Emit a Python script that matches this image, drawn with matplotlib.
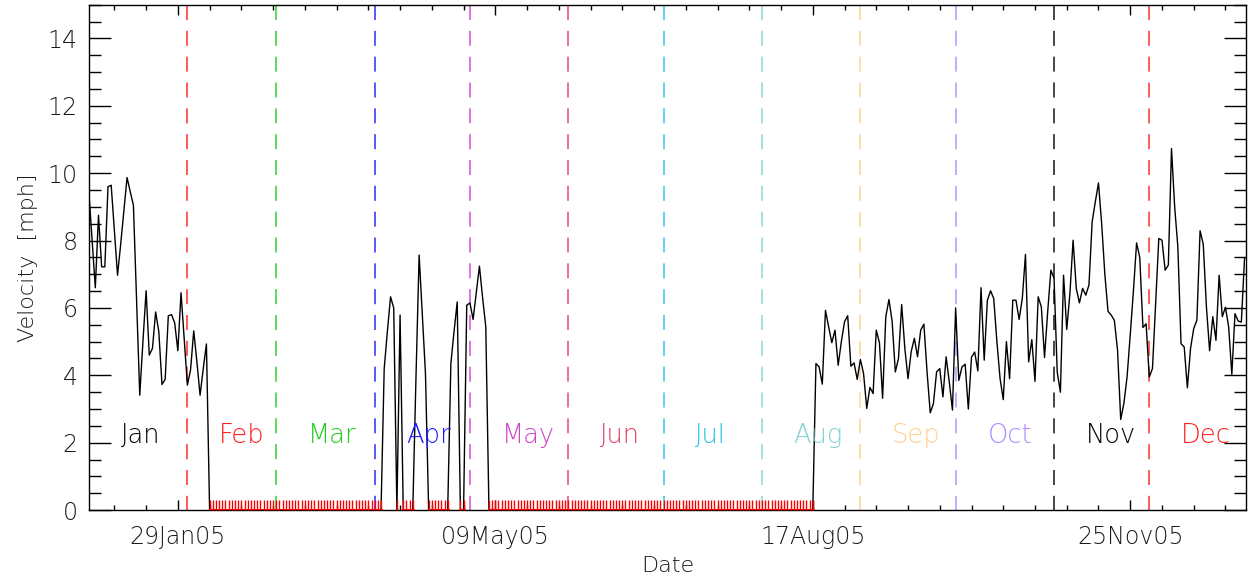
import numpy as np
import matplotlib
matplotlib.use("Agg")
import matplotlib.pyplot as plt
from matplotlib.ticker import FixedLocator, MultipleLocator
from matplotlib.lines import TICKUP

# Daily wind velocity [mph] for 2005, day 0 = 01 Jan 2005.
# Days not covered by the segments below are zero (no wind recorded).
N_DAYS = 365

jan_start = 0
velocity_jan = [9.4, 8.0, 6.6, 8.75, 7.22, 7.22, 9.6, 9.64, 8.3, 6.97,
                7.9, 8.9, 9.87, 9.45, 9.05, 6.2, 3.41, 5.0, 6.51, 4.6,
                4.8, 5.88, 5.3, 3.73, 3.88, 5.77, 5.8, 5.56, 4.73, 6.45,
                5.1, 3.71, 4.16, 5.32, 4.4, 3.41, 4.2, 4.93]

apr_start = 93
velocity_apr = [4.2, 5.3, 6.33, 6.0, 0, 5.79, 0, 0, 0, 0,
                3.9, 7.57, 5.8, 4.05, 0, 0, 0, 0, 0, 0,
                0, 4.35, 5.3, 6.18, 0, 0, 6.08, 6.15, 5.66, 6.45,
                7.24, 6.3, 5.44]

aug_start = 229
velocity_aug = [4.35, 4.25, 3.74, 5.93, 5.44, 4.97, 5.34, 4.3, 5.0, 5.59,
                5.77, 4.27, 4.37, 3.88, 4.47, 4.05, 3.02, 3.64, 3.46, 5.34,
                4.97, 3.32, 5.74, 6.25, 5.6, 4.1, 4.5, 6.1, 4.8, 3.9,
                4.7, 5.1, 4.55, 5.34, 5.52, 4.1, 2.89, 3.16, 4.1, 4.2,
                3.36, 4.55, 3.8, 2.97, 6.0, 3.85, 4.25, 4.33, 3.0, 4.54,
                4.69, 4.13, 6.6, 4.45, 6.23, 6.51, 6.28, 5.0, 3.9, 3.28,
                5.0, 3.9, 6.23, 6.23, 5.66, 6.28, 7.59, 4.4, 5.06, 3.82,
                6.33, 6.03, 4.53, 5.89, 7.12, 6.88, 4.1, 3.5, 6.97, 5.36,
                6.43, 8.01, 6.58, 6.15, 6.58, 6.38, 6.68, 8.55, 9.15, 9.71,
                8.5, 7.0, 5.9, 5.79, 5.63, 4.75, 2.69, 3.17, 3.95, 5.2,
                6.5, 7.93, 7.5, 5.42, 5.53, 3.95, 4.2, 6.1, 8.06, 8.01,
                7.12, 7.27, 10.73, 9.0, 7.81, 4.94, 4.84, 3.63, 4.8, 5.39,
                5.64, 8.29, 7.89, 6.03, 4.73, 5.74, 5.04, 6.97, 5.74, 6.02,
                5.44, 4.03, 5.83, 5.61, 5.58, 7.47]

month_names = ["Jan", "Feb", "Mar", "Apr", "May", "Jun",
               "Jul", "Aug", "Sep", "Oct", "Nov", "Dec"]
month_start = [0, 31, 59, 90, 120, 151, 181, 212, 243, 273, 304, 334]
month_colors = ["#000000", "#ff1a1a", "#1fcc1f", "#1a1aff", "#cc44cc", "#e23c64",
                "#22c4e4", "#84d2d2", "#ffcf90", "#b08cff", "#000000", "#ff2020"]

date_ticks = [28, 128, 228, 328]
date_labels = ["29Jan05", "09May05", "17Aug05", "25Nov05"]

# build the daily series
velocity = np.zeros(N_DAYS)
for start, seg in [(jan_start, velocity_jan), (apr_start, velocity_apr),
                   (aug_start, velocity_aug)]:
    velocity[start:start + len(seg)] = seg
days = np.arange(N_DAYS)
zero_days = np.where(velocity == 0, 0.0, np.nan)

fig = plt.figure(figsize=(12.53, 5.83), dpi=100)
ax = fig.add_axes([0.071, 0.125, 0.9235, 0.867])

TXT = "#1a1a1a"

# month boundary lines and labels
for name, start, col in zip(month_names, month_start, month_colors):
    if start > 0:
        ax.plot([start, start], [15, 0], color=col, lw=1.2, alpha=0.85,
                linestyle=(0, (9, 6.5)), zorder=1)
    ax.text(start + 10, 2.0, name, color=col, fontsize=18.5, ha="left",
            va="baseline", fontweight="light", zorder=3)

ax.plot(days, velocity, color="black", lw=1.0, zorder=2)
ax.plot(days, zero_days, color="red", lw=2.2, marker=TICKUP, markersize=7,
        markeredgewidth=1.0, markeredgecolor="red", zorder=4)

ax.set_xlim(0, 364.5)
ax.set_ylim(0, 15)

ax.xaxis.set_major_locator(FixedLocator(date_ticks))
ax.xaxis.set_minor_locator(FixedLocator(np.arange(8, 365, 10)))
ax.set_xticklabels(date_labels)
ax.yaxis.set_major_locator(MultipleLocator(2))
ax.yaxis.set_minor_locator(MultipleLocator(0.5))

ax.tick_params(axis="both", which="both", direction="in", top=True, right=True,
               colors="black", labelcolor=TXT, labelsize=17)
ax.tick_params(axis="y", which="major", length=16, width=1.0, pad=8)
ax.tick_params(axis="y", which="minor", length=8.5, width=1.0)
ax.tick_params(axis="x", which="major", length=7, width=1.0, pad=11)
ax.tick_params(axis="x", which="minor", length=3.5, width=1.0)
for lab in ax.get_xticklabels() + ax.get_yticklabels():
    lab.set_fontweight("light")

for sp in ax.spines.values():
    sp.set_linewidth(1.0)

ax.set_xlabel("Date", fontsize=16, color=TXT, labelpad=5, fontweight="light")
ax.set_ylabel("Velocity  [mph]", fontsize=16, color=TXT, labelpad=7,
              fontweight="light")

fig.savefig("out.png", dpi=100)
